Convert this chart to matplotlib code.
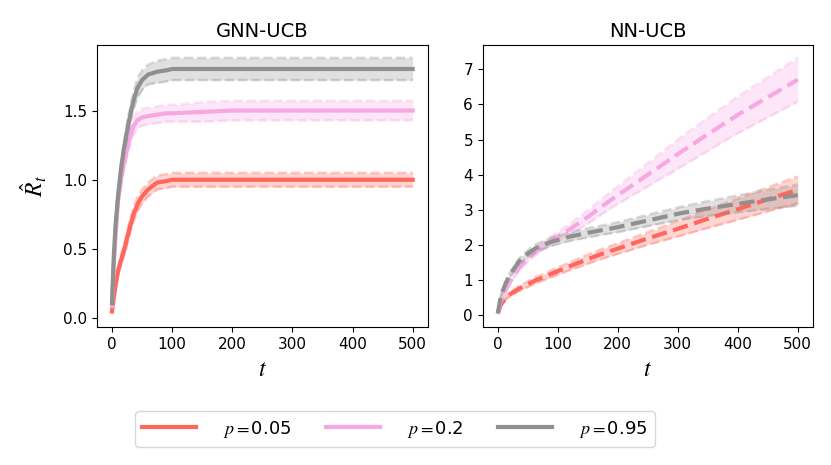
import numpy as np
import matplotlib
matplotlib.use("Agg")
import matplotlib.pyplot as plt

plt.rcParams['mathtext.fontset'] = 'stix'

# GNN-UCB (left) readings
t_gnn = [0, 3, 6, 10, 15, 20, 28, 35, 42, 50, 60, 75, 90, 100, 150, 200, 300, 400, 500]
gnn_red = [0.05, 0.15, 0.24, 0.34, 0.42, 0.49, 0.63, 0.74, 0.82, 0.88, 0.93, 0.98, 0.99, 1.0, 1.0, 1.0, 1.0, 1.0, 1.0]
gnn_red_w = [0.02, 0.02, 0.03, 0.03, 0.04, 0.04, 0.05, 0.05, 0.05, 0.05, 0.05, 0.05, 0.05, 0.05, 0.05, 0.05, 0.05, 0.05, 0.05]
gnn_pink = [0.09, 0.38, 0.60, 0.85, 1.00, 1.12, 1.28, 1.38, 1.43, 1.45, 1.46, 1.47, 1.48, 1.48, 1.49, 1.50, 1.50, 1.50, 1.50]
gnn_pink_w = [0.02, 0.03, 0.03, 0.04, 0.05, 0.05, 0.06, 0.06, 0.06, 0.06, 0.06, 0.06, 0.06, 0.06, 0.07, 0.07, 0.07, 0.07, 0.07]
gnn_gray = [0.11, 0.45, 0.68, 0.88, 1.08, 1.23, 1.42, 1.56, 1.66, 1.72, 1.76, 1.78, 1.79, 1.80, 1.80, 1.80, 1.80, 1.80, 1.80]
gnn_gray_w = [0.02, 0.03, 0.03, 0.04, 0.05, 0.05, 0.06, 0.06, 0.07, 0.07, 0.07, 0.08, 0.08, 0.08, 0.08, 0.08, 0.08, 0.08, 0.08]

# NN-UCB (right) readings
t_nn = [0, 5, 13, 20, 35, 50, 63, 75, 90, 120, 150, 175, 200, 250, 303, 350, 400, 450, 500]
nn_red = [0.06, 0.30, 0.50, 0.60, 0.76, 0.89, 1.00, 1.08, 1.19, 1.40, 1.60, 1.76, 1.90, 2.19, 2.48, 2.75, 3.02, 3.30, 3.57]
nn_red_w = [0.02, 0.04, 0.05, 0.06, 0.07, 0.08, 0.09, 0.09, 0.10, 0.11, 0.13, 0.14, 0.15, 0.18, 0.22, 0.26, 0.30, 0.34, 0.38]
nn_pink = [0.06, 0.40, 0.72, 0.95, 1.34, 1.62, 1.81, 1.96, 2.14, 2.45, 2.80, 3.12, 3.42, 4.00, 4.62, 5.15, 5.70, 6.20, 6.70]
nn_pink_w = [0.02, 0.03, 0.04, 0.05, 0.07, 0.08, 0.09, 0.10, 0.12, 0.15, 0.19, 0.22, 0.25, 0.33, 0.42, 0.47, 0.52, 0.57, 0.62]
nn_gray = [0.06, 0.55, 0.91, 1.15, 1.53, 1.76, 1.91, 2.00, 2.10, 2.24, 2.35, 2.43, 2.51, 2.70, 2.90, 3.04, 3.17, 3.30, 3.42]
nn_gray_w = [0.02, 0.04, 0.05, 0.06, 0.08, 0.10, 0.11, 0.11, 0.12, 0.12, 0.13, 0.13, 0.14, 0.16, 0.18, 0.21, 0.24, 0.27, 0.30]

labels = ['0.05', '0.2', '0.95']
colors = ['#ff665c', '#f7a8e3', '#909090']


def draw(ax, t, series, ls):
    t = np.array(t)
    for (m, w), c in zip(series, colors):
        m = np.array(m)
        w = np.array(w)
        ax.fill_between(t, m - w, m + w, color=c, alpha=0.28, lw=0)
        ax.plot(t, m - w, color=c, lw=1.8, ls='--', alpha=0.35)
        ax.plot(t, m + w, color=c, lw=1.8, ls='--', alpha=0.35)
        ax.plot(t, m, color=c, lw=3, ls=ls)


fig = plt.figure(figsize=(8.31, 4.65), dpi=100)
ax1 = fig.add_axes([0.1167, 0.297, 0.398, 0.606])
ax2 = fig.add_axes([0.581, 0.297, 0.397, 0.606])

draw(ax1, t_gnn, [(gnn_red, gnn_red_w), (gnn_pink, gnn_pink_w), (gnn_gray, gnn_gray_w)], '-')
draw(ax2, t_nn, [(nn_red, nn_red_w), (nn_pink, nn_pink_w), (nn_gray, nn_gray_w)], '--')

ax1.set_title('GNN-UCB', fontsize=14)
ax2.set_title('NN-UCB', fontsize=14)
for ax in (ax1, ax2):
    ax.set_xlabel(r'$t$', fontsize=17)
    ax.tick_params(labelsize=11)
    ax.set_xticks([0, 100, 200, 300, 400, 500])
ax1.set_yticks([0.0, 0.5, 1.0, 1.5])
ax2.set_yticks(range(8))
ax1.set_ylabel(r'$\hat{R}_t$', fontsize=17, labelpad=10)

handles = [plt.Line2D([], [], color=c, lw=3) for c in colors]
fig.legend(handles, [r'$p=$' + s for s in labels], loc='center',
           bbox_to_anchor=(0.475, 0.077), ncol=3, fontsize=13,
           handlelength=3.0, columnspacing=1.9, handletextpad=1.5)

fig.savefig('out.png', dpi=100)
